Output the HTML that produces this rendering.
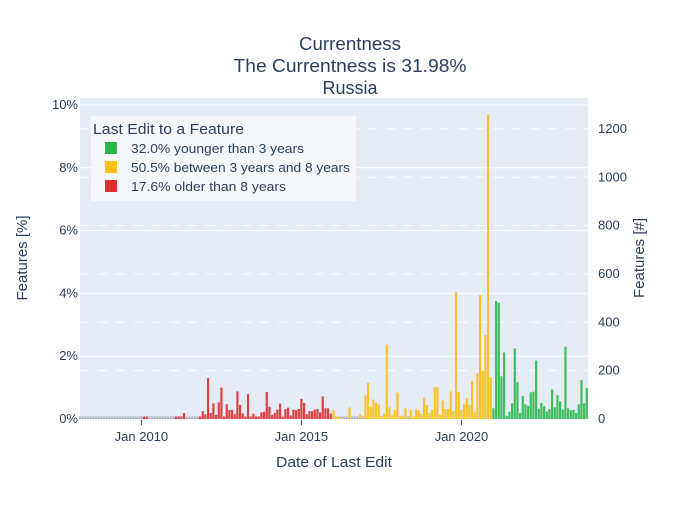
<!DOCTYPE html>
<html><head><meta charset="utf-8"><style>
body{margin:0;background:#fff;}
svg text{font-family:"Liberation Sans",sans-serif;fill:#2a3f5f;}
</style></head><body>
<svg id="chart" width="700" height="500" xmlns="http://www.w3.org/2000/svg">
<rect x="0" y="0" width="700" height="500" fill="#fff"/>
<rect x="80" y="98" width="508" height="321" fill="#e5ecf6"/>
<g id="grid"></g>
<g id="bars"></g>
<g id="axes"></g>
<text x="350" y="50" font-size="18" text-anchor="middle" textLength="102" lengthAdjust="spacingAndGlyphs">Currentness</text>
<text x="350" y="72" font-size="18" text-anchor="middle" textLength="233" lengthAdjust="spacingAndGlyphs">The Currentness is 31.98%</text>
<text x="350" y="94" font-size="18" text-anchor="middle" textLength="55" lengthAdjust="spacingAndGlyphs">Russia</text>
<text x="334" y="467" font-size="15" text-anchor="middle" textLength="116" lengthAdjust="spacingAndGlyphs">Date of Last Edit</text>
<text x="27" y="258" font-size="15" text-anchor="middle" transform="rotate(-90 27 258)">Features [%]</text>
<text x="644" y="258" font-size="15" text-anchor="middle" transform="rotate(-90 644 258)">Features [#]</text>
<g>
<rect x="91" y="116" width="265" height="85" fill="#f5f7fb"/>
<text x="93" y="134" font-size="15" textLength="151" lengthAdjust="spacingAndGlyphs">Last Edit to a Feature</text>
<g><rect x="105" y="142" width="12" height="12" fill="#2cb84a"/><text x="131" y="153" font-size="13" textLength="173" lengthAdjust="spacingAndGlyphs">32.0% younger than 3 years</text></g>
<g><rect x="105" y="161" width="12" height="12" fill="#fbbf10"/><text x="131" y="172" font-size="13" textLength="219" lengthAdjust="spacingAndGlyphs">50.5% between 3 years and 8 years</text></g>
<g><rect x="105" y="180" width="12" height="12" fill="#d92f2f"/><text x="131" y="191" font-size="13" textLength="155" lengthAdjust="spacingAndGlyphs">17.6% older than 8 years</text></g>
</g>
</svg>
<script>
const startYear = 2008, startMonth = 1; // Feb 2008 (0-based month)
const values = [
0.03,0.03,0.03,0.03,0.03,0.03,0.03,0.03,0.03,0.03,0.03,
0.03,0.03,0.03,0.03,0.03,0.03,0.03,0.03,0.03,0.03,0.03,0.03,
0.03,0.05,0.08,0.03,0.03,0.03,0.03,0.03,0.03,0.03,0.03,0.03,
0.03,0.05,0.06,0.08,0.19,0.03,0.03,0.03,0.03,0.03,0.08,
0.25,0.15,1.3,0.19,0.5,0.13,0.53,1.0,0.08,0.47,0.29,0.29,0.15,0.88,0.45,0.18,0.08,0.79,0.08,0.17,
0.08,0.06,0.21,0.23,0.86,0.39,0.13,0.19,0.30,0.49,0.08,0.32,0.36,0.11,0.30,0.28,0.32,0.64,0.51,0.15,
0.25,0.25,0.30,0.32,0.21,0.72,0.34,0.34,0.17,
0.28,0.05,0.05,
0.03,0.03,0.03,0.37,0.03,0.03,0.03,0.14,0.03,0.75,1.15,0.39,0.62,0.52,0.46,0.1,0.17,2.37,0.37,0.12,
0.28,0.84,0.1,0.1,0.34,0.03,0.28,0.07,0.3,0.27,0.16,0.67,0.45,0.2,0.29,1.01,1.01,0.13,0.59,0.32,
0.32,0.88,0.25,4.03,0.86,0.3,0.48,0.66,0.45,1.2,0.21,1.45,
3.95,1.54,2.67,9.68,1.33,
0.34,3.76,3.7,1.36,2.12,0.1,0.23,0.5,2.25,1.17,0.19,0.73,0.47,0.42,0.85,0.87,1.86,0.33,0.51,0.4,
0.24,0.31,0.94,0.37,0.76,0.56,0.3,2.3,0.34,0.28,0.29,0.19,0.47,1.24,0.5,0.99
];
const leftTicks = [0,2,4,6,8,10];
const rightTicks = [0,200,400,600,800,1000,1200];
const xTickYears = [2010,2015,2020];
const totalFeatures = 12990;
const redBefore = 2016*12+0, greenFrom = 2021*12+0;

const NS="http://www.w3.org/2000/svg";
const x0=80,x1=588,yBase=419,pxPerPct=31.4,pxPerMonth=2.667;
const xOfMonth = mi => 141.4 + (mi - 2010*12) * pxPerMonth;
const yPct = v => yBase - v*pxPerPct;
const yCnt = c => yPct(c/totalFeatures*100);
function mk(tag,attrs,parent){const e=document.createElementNS(NS,tag);for(const k in attrs)e.setAttribute(k,attrs[k]);parent.appendChild(e);return e;}
const grid=document.getElementById('grid'),bars=document.getElementById('bars'),axes=document.getElementById('axes');

leftTicks.forEach(t=>{
  const y=yPct(t);
  if(t>0){const l=mk('line',{x1:x0,x2:x1,y1:y,y2:y,stroke:'#fff','stroke-width':1},grid);
  
  }
  const tx=mk('text',{x:78,y:y+4,'font-size':13,'text-anchor':'end'},axes);tx.textContent=t+'%';
  
  
});
rightTicks.forEach(t=>{
  const y=yCnt(t);
  if(t>0){const l=mk('line',{x1:x0,x2:x1,y1:y,y2:y,stroke:'#fff','stroke-width':1,'stroke-dasharray':'9,9'},grid);
  
  }
  const tx=mk('text',{x:598,y:y+4,'font-size':13},axes);tx.textContent=t;
  
  
});
xTickYears.forEach(yr=>{
  const x=xOfMonth(yr*12);
  mk('line',{x1:x,x2:x,y1:420,y2:425,stroke:'#444','stroke-width':1},axes);
  const tx=mk('text',{x:x,y:441,'font-size':13,'text-anchor':'middle'},axes);tx.textContent='Jan '+yr;
  
  
});
const base=startYear*12+startMonth;
values.forEach((v,i)=>{
  const mi=base+i, x=xOfMonth(mi);
  const col = mi<redBefore?'#d92f2f':(mi<greenFrom?'#fbbf10':'#2cb84a');
  const tiny=v<=0.03;
  const y=Math.min(yPct(v), yBase-2.5);
  const r=mk('rect',{x:x-1.1,y:y,width:2.2,height:yBase-y,fill:tiny?'#a8acb8':col,'fill-opacity':0.9},bars);
  
  
});
</script>
</body></html>
